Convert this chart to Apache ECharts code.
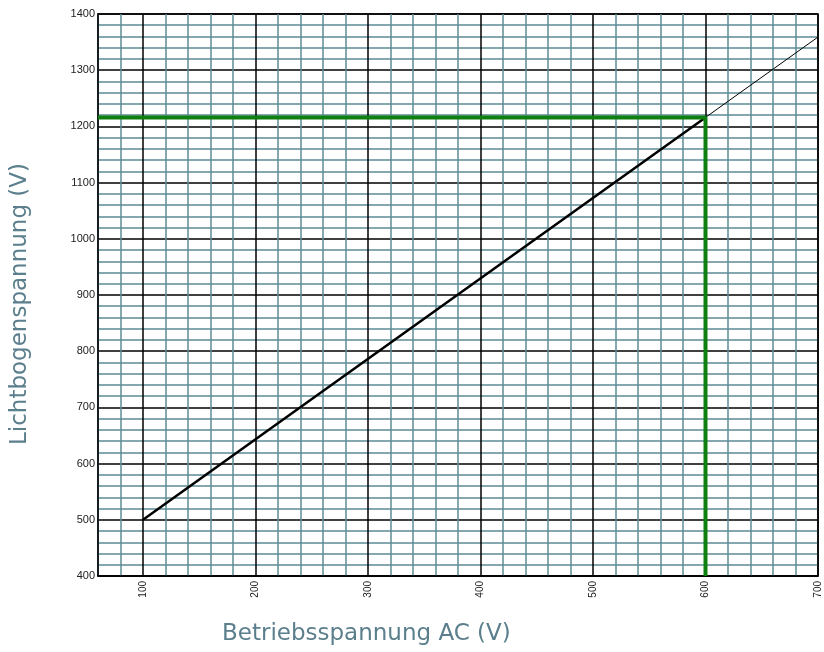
<!DOCTYPE html>
<html>
<head>
<meta charset="utf-8">
<script src="https://cdn.jsdelivr.net/npm/echarts@6/dist/echarts.min.js"></script>
<style>
    html, body { margin: 0; padding: 0; background: #fff; }
    #chart { width: 824px; height: 652px; }
</style>
</head>
<body>
<div id="chart"></div>
<script>
    // Kennlinie (dicke Linie) und Verlängerung (dünne Linie)
    const betriebsSpannung = [100, 600]
    const lichtbogenSpannung = [500, 1216]
    const verlaengerungX = [600, 700]
    const verlaengerungY = [1216, 1359]
    // grüne Ablese-Markierung
    const markerX = [60, 600, 600]
    const markerY = [1216, 1216, 400]

    const teal = '#5e8c96'
    const pairs = (xs, ys) => xs.map((x, i) => [x, ys[i]])

    const chart = echarts.init(document.getElementById('chart'))
    chart.setOption({
        animation: false,
        title: {
            text: 'Betriebsspannung AC (V)',
            left: 222,
            top: 623,
            padding: 0,
            textStyle: {
                fontFamily: 'DejaVu Sans',
                fontWeight: 'normal',
                fontSize: 23,
                color: '#5b7f8c'
            }
        },
        grid: {
            left: 98, right: 6, top: 14, bottom: 76,
            show: true,
            borderColor: '#000',
            borderWidth: 1.5
        },
        xAxis: {
            type: 'value',
            min: 60,
            max: 700,
            interval: 20,
            axisLine: { show: true, lineStyle: { color: '#000', width: 1.5 } },
            axisTick: { show: false },
            axisLabel: {
                rotate: 90,
                margin: 5,
                fontSize: 10,
                fontFamily: 'Liberation Sans',
                color: '#222',
                formatter: v => (v % 100 === 0 ? String(v) : '')
            },
            splitLine: {
                show: true,
                // Linien ab 60 im 20er-Abstand: jede fünfte (100, 200, ...) schwarz
                lineStyle: { color: [teal, teal, '#000', teal, teal], width: 1.5 }
            }
        },
        yAxis: {
            type: 'value',
            min: 400,
            max: 1400,
            interval: 100,
            name: 'Lichtbogenspannung (V)',
            nameLocation: 'middle',
            nameGap: 66,
            nameRotate: 90,
            nameTextStyle: {
                fontFamily: 'DejaVu Sans',
                fontSize: 23,
                color: '#5b7f8c',
                padding: [0, 18, 0, 0]
            },
            axisLine: { show: true, lineStyle: { color: '#000', width: 1.5 } },
            axisTick: { show: false },
            axisLabel: {
                margin: 3,
                fontSize: 11,
                fontFamily: 'Liberation Sans',
                color: '#222',
                formatter: v => String(v)
            },
            splitLine: { show: true, lineStyle: { color: '#000', width: 1.5 } },
            minorTick: { show: false, splitNumber: 5 },
            minorSplitLine: { show: true, lineStyle: { color: teal, width: 1.5 } }
        },
        series: [
            {
                name: 'Kennlinie',
                type: 'line',
                data: pairs(betriebsSpannung, lichtbogenSpannung),
                symbol: 'none',
                lineStyle: { color: '#000', width: 2.5 },
                z: 3
            },
            {
                name: 'Verlängerung',
                type: 'line',
                data: pairs(verlaengerungX, verlaengerungY),
                symbol: 'none',
                lineStyle: { color: '#000', width: 1 },
                z: 3
            },
            {
                name: 'Markierung',
                type: 'line',
                data: pairs(markerX, markerY),
                symbol: 'none',
                lineStyle: { color: '#0f800f', width: 4 },
                z: 4
            }
        ]
    })
</script>
</body>
</html>
